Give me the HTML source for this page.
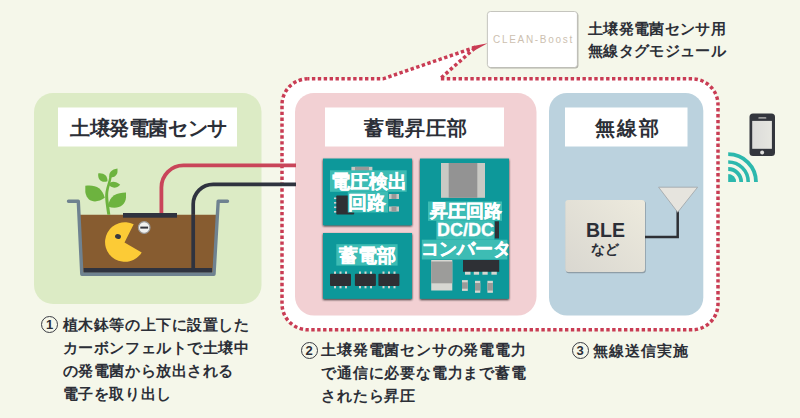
<!DOCTYPE html>
<html><head><meta charset="utf-8">
<style>
html,body{margin:0;padding:0;}
body{width:800px;height:418px;overflow:hidden;position:relative;background:#f5f7ea;font-family:"Liberation Sans",sans-serif;color:#2c2f37;}
svg{position:absolute;left:0;top:0;}
.t{position:absolute;white-space:nowrap;font-weight:bold;}
.title{font-size:20px;line-height:20px;}
.bt{font-size:18px;line-height:19px;color:#fff;-webkit-text-stroke:0.35px #fff;}
.note{font-size:15px;line-height:23px;}
.circ{position:absolute;width:15px;height:15px;border:1.2px solid #3a3c44;border-radius:50%;font-size:13px;line-height:15px;text-align:center;font-weight:bold;}
</style></head>
<body>
<svg width="800" height="418" viewBox="0 0 800 418">
  <!-- dotted outline -->
  <path d="M308,78.8 L383,78.8 L476,47 L440,78.8 L692,78.8 A26,26 0 0 1 718,104.8 L718,303.8 A26,26 0 0 1 692,329.8 L308,329.8 A26,26 0 0 1 282,303.8 L282,104.8 A26,26 0 0 1 308,78.8 Z" fill="#ffffff" stroke="#c93c54" stroke-width="3.5" stroke-dasharray="3.4 2.5" stroke-dashoffset="2"/>
  <polygon points="487.6,43.2 472,46.2 474.5,50.5" fill="#c93c54"/>
  <!-- panels -->
  <rect x="34" y="93" width="227.5" height="211" rx="19" fill="#dcebc5"/>
  <rect x="295" y="93" width="241.5" height="222.6" rx="19" fill="#f2d0d3"/>
  <rect x="549" y="93" width="154.3" height="222.6" rx="18" fill="#bbd2de"/>
  <!-- title boxes -->
  <rect x="58" y="107.5" width="179" height="39" fill="#fff"/>
  <rect x="325" y="107.5" width="179" height="39" fill="#fff"/>
  <rect x="565" y="107.5" width="122.5" height="39" fill="#fff"/>

  <!-- wires -->
  <path d="M161.4,214 L161.4,187.4 A22,22 0 0 1 183.4,165.4 L296,165.4" fill="none" stroke="#c9455a" stroke-width="3.8"/>
  <path d="M193.2,270 L193.2,204.3 A20,20 0 0 1 213.2,184.3 L296,184.3" fill="none" stroke="#2f333f" stroke-width="3.7"/>

  <!-- pot -->
  <polygon points="79.5,214.8 216.8,214.8 213,272.8 82.5,272.8" fill="#875c30"/>
  <rect x="83.5" y="268" width="128.5" height="4.8" fill="#2f333f"/>
  <path d="M193.2,270 L193.2,214.8" stroke="#2f333f" stroke-width="3.7"/>
  <polyline points="68.5,201.2 78.3,201.2 81.8,274.2 214,274.2 218.2,201.2 227.5,201.2" fill="none" stroke="#6f8290" stroke-width="3.4" stroke-linejoin="round" stroke-linecap="round"/>
  <rect x="123" y="213" width="54" height="4.7" fill="#2f333f"/>

  <!-- plant -->
  <g fill="#6db33f">
    <path d="M107.3,214.8 C106,205 104.5,198 105.5,192 C106.5,186 108.5,182 109.5,176 L111.8,176.5 C111,182 109,187 108.3,192 C107.6,198 109.3,205 110.3,214.8 Z"/>
    <path d="M85.3,185.8 C95,184.5 102,187.5 104.8,197.8 C97,203.5 87,203 85.3,192 Z"/>
    <path d="M126,192.6 C117,192.6 109.5,195.5 108,206.5 C117,210 125.5,206 126,197.5 Z"/>
    <path d="M98.2,173.4 C104,172.8 107.5,175.5 107.5,181.2 C102,183 98.5,180.5 98.2,175.8 Z"/>
    <path d="M117.5,168.6 C111.5,169.5 108.5,172.5 109.4,177.5 C114.5,178 117.8,175 117.5,170.8 Z"/>
    <path d="M120.2,184.7 C116,181 110.5,180.5 108.4,184.6 C111.5,188.8 117,188.5 120.2,184.7 Z"/>
  </g>

  <!-- pacman -->
  <path d="M124.5,242.5 L133.7,224.3 A19.8,19.8 0 1 0 141.7,252.4 Z" fill="#fccb36"/>
  <ellipse cx="118" cy="236.5" rx="3" ry="2.4" transform="rotate(20 118 236.5)" fill="#3a3a40"/>
  <circle cx="144.2" cy="227.5" r="5.8" fill="#f1f1ef" stroke="#9c9c9c" stroke-width="1.2"/>
  <rect x="140.3" y="226.6" width="7.8" height="2" fill="#35363d"/>

  <!-- boards shadow + boards -->
  <defs><filter id="sh" x="-10%" y="-10%" width="120%" height="120%"><feGaussianBlur in="SourceAlpha" stdDeviation="1.2"/><feOffset dx="0.4" dy="0.5"/><feComponentTransfer><feFuncA type="linear" slope="0.85"/></feComponentTransfer><feMerge><feMergeNode/><feMergeNode in="SourceGraphic"/></feMerge></filter></defs>
  <g filter="url(#sh)">
    <rect x="323" y="158.6" width="89" height="66.6" fill="#0a989a"/>
    <rect x="323" y="233" width="89" height="65.8" fill="#0a989a"/>
    <rect x="420" y="158.6" width="89" height="140.2" fill="#0a989a"/>
  </g>
  <!-- board1 components -->
  <rect x="351.4" y="166.8" width="21" height="6" fill="#c9c9c4"/>
  <rect x="355" y="166.8" width="14" height="6" fill="#999"/>
  <rect x="336.2" y="195.4" width="18" height="19" rx="1" fill="#2e3035"/>
  <g fill="#cfcfcf"><rect x="334" y="197.5" width="2.2" height="1.6"/><rect x="334" y="202" width="2.2" height="1.6"/><rect x="334" y="206.5" width="2.2" height="1.6"/><rect x="334" y="211" width="2.2" height="1.6"/></g>
  <rect x="389" y="194" width="10" height="5" fill="#c9c9c4"/><rect x="391.5" y="194" width="5" height="5" fill="#999"/>
  <rect x="389" y="206.5" width="10" height="5" fill="#c9c9c4"/><rect x="391.5" y="206.5" width="5" height="5" fill="#999"/>
  <!-- board2 ICs -->
  <g fill="#2e3035">
    <rect x="330" y="273.8" width="21" height="12.2" rx="1"/>
    <rect x="354.9" y="273.8" width="21" height="12.2" rx="1"/>
    <rect x="378.4" y="273.8" width="21" height="12.2" rx="1"/>
  </g>
  <g fill="#d6d6d0">
    <rect x="334" y="271.5" width="2" height="2.3"/><rect x="339.5" y="271.5" width="2" height="2.3"/><rect x="345" y="271.5" width="2" height="2.3"/>
    <rect x="334" y="286" width="2" height="2.3"/><rect x="339.5" y="286" width="2" height="2.3"/><rect x="345" y="286" width="2" height="2.3"/>
    <rect x="359" y="271.5" width="2" height="2.3"/><rect x="364.5" y="271.5" width="2" height="2.3"/><rect x="370" y="271.5" width="2" height="2.3"/>
    <rect x="359" y="286" width="2" height="2.3"/><rect x="364.5" y="286" width="2" height="2.3"/><rect x="370" y="286" width="2" height="2.3"/>
    <rect x="382.5" y="271.5" width="2" height="2.3"/><rect x="388" y="271.5" width="2" height="2.3"/><rect x="393.5" y="271.5" width="2" height="2.3"/>
    <rect x="382.5" y="286" width="2" height="2.3"/><rect x="388" y="286" width="2" height="2.3"/><rect x="393.5" y="286" width="2" height="2.3"/>
  </g>
  <!-- board3 components -->
  <rect x="441" y="163" width="44" height="34.8" fill="#c9c9c4"/>
  <rect x="448.7" y="163" width="28.6" height="34.8" fill="#939393"/>
  <rect x="494.7" y="221.3" width="4.3" height="17.1" fill="#2e3035"/>
  <rect x="431.2" y="260" width="21.1" height="30.5" fill="#d7d7d2"/>
  <rect x="431.2" y="261.5" width="21.1" height="21.8" fill="#9c9c9a"/>
  <rect x="463" y="260" width="36.2" height="11.8" fill="#2e3035"/>
  <g fill="#d6d6d0"><rect x="465" y="271.8" width="5.5" height="2.9"/><rect x="473.8" y="271.8" width="5.3" height="2.9"/><rect x="482.4" y="271.8" width="5.3" height="2.9"/><rect x="491.4" y="271.8" width="5.4" height="2.9"/></g>
  <g><rect x="462" y="280.1" width="5.8" height="10.8" fill="#d6d6d0"/><rect x="462" y="282.3" width="5.8" height="6.4" fill="#9a9a98"/>
     <rect x="475" y="280.8" width="5.3" height="12" fill="#d6d6d0"/><rect x="475" y="283" width="5.3" height="7.6" fill="#9a9a98"/>
     <rect x="487.4" y="280.8" width="5.5" height="12" fill="#d6d6d0"/><rect x="487.4" y="283" width="5.5" height="7.6" fill="#9a9a98"/></g>

  <!-- highlights -->
  <g fill="#3dbcb4">
    <rect x="330" y="170.3" width="76.7" height="21.5"/>
    <rect x="347.8" y="191.8" width="40.4" height="20.7"/>
    <rect x="336.3" y="244.2" width="61.3" height="21.4"/>
    <rect x="428" y="201.5" width="74" height="19.3"/>
    <rect x="436.3" y="220.8" width="58" height="18.9"/>
    <rect x="421.8" y="239.7" width="85.6" height="19.8"/>
  </g>

  <!-- BLE -->
  <defs>
    <linearGradient id="bleg" x1="0" y1="1" x2="1" y2="0">
      <stop offset="0" stop-color="#d9d7d0"/><stop offset="1" stop-color="#edeadd"/>
    </linearGradient>
    <linearGradient id="scr" x1="0" y1="0" x2="1" y2="0">
      <stop offset="0" stop-color="#dcdcda"/><stop offset="1" stop-color="#e6e6e0"/>
    </linearGradient>
  </defs>
  <rect x="565.8" y="200.8" width="80" height="72.5" rx="3" fill="#6f7a80" opacity="0.6"/>
  <rect x="565.3" y="199.9" width="79.7" height="72.2" rx="3" fill="url(#bleg)"/>
  <path d="M645,237 L677.7,237 L677.7,210" fill="none" stroke="#2e3035" stroke-width="2.5"/>
  <polygon points="658.6,187.2 697.6,187.2 677.7,212.3" fill="#e6e4de" stroke="#9ea3a6" stroke-width="0.8"/>

  <!-- CLEAN-Boost box -->
  <rect x="488.4" y="12.5" width="90" height="56" rx="3" fill="#7a7a72" opacity="0.55"/>
  <rect x="487.4" y="11.5" width="90" height="56" rx="3" fill="#fff" stroke="#b8b8b0" stroke-width="0.8"/>

  <!-- phone -->
  <rect x="749.5" y="113.5" width="25.5" height="42.4" rx="3.5" fill="#33363d"/>
  <rect x="752.2" y="120.9" width="19.7" height="27.9" fill="url(#scr)"/>
  <rect x="758.3" y="117" width="8.1" height="1.8" rx="0.9" fill="#9a9a9a"/>
  <circle cx="762.1" cy="152.4" r="2" fill="#e0e0de"/>

  <!-- wifi -->
  <g fill="none" stroke="#2cb8ad">
    <path d="M728.2,174.2 A7.8,7.8 0 0 1 736,182" stroke="none" fill="#2cb8ad"/>
    <path d="M728.2,182 L728.2,174.2 A7.8,7.8 0 0 1 736,182 Z" stroke="none" fill="#2cb8ad"/>
    <path d="M728.2,169 A13,13 0 0 1 741.2,182" stroke-width="3.8"/>
    <path d="M728.2,162 A20,20 0 0 1 748.2,182" stroke-width="3.5"/>
    <path d="M728.2,154.2 A27.8,27.8 0 0 1 756,182" stroke-width="3.8"/>
  </g>
</svg>

<!-- titles -->
<div class="t title" style="left:70px;top:118px;letter-spacing:-0.4px;">土壌発電菌センサ</div>
<div class="t title" style="left:363.5px;top:118px;letter-spacing:0.85px;">蓄電昇圧部</div>
<div class="t title" style="left:595px;top:118px;letter-spacing:2px;">無線部</div>

<!-- board texts -->
<div class="t bt" style="left:330.5px;top:171px;font-size:18.5px;line-height:21px;">電圧検出</div>
<div class="t bt" style="left:347.5px;top:191.5px;font-size:18.5px;line-height:21px;">回路</div>
<div class="t bt" style="left:338.5px;top:246px;font-size:18.5px;">蓄電部</div>
<div class="t bt" style="left:430px;top:201.5px;">昇圧回路</div>
<div class="t bt" style="left:437px;top:220.5px;">DC/DC</div>
<div class="t bt" style="left:420.5px;top:239.5px;">コンバータ</div>

<!-- BLE -->
<div class="t" style="left:586px;top:219px;font-size:19.5px;line-height:22px;">BLE</div>
<div class="t" style="left:591px;top:240px;font-size:14px;line-height:18px;">など</div>

<!-- CLEAN-Boost -->
<div class="t" style="left:493px;top:35px;font-size:10px;line-height:10px;font-weight:normal;color:#cdbfb0;letter-spacing:1.7px;">CLEAN-Boost</div>

<!-- top right -->
<div class="t" style="left:588px;top:18px;font-size:15px;line-height:21.5px;letter-spacing:0.35px;">土壌発電菌センサ用<br>無線タグモジュール</div>

<!-- notes -->
<div class="circ" style="left:41px;top:315.5px;">1</div>
<div class="t note" style="left:62.8px;top:313px;letter-spacing:0.56px;">植木鉢等の上下に設置した<br>カーボンフェルトで土壌中<br>の発電菌から放出される<br>電子を取り出し</div>
<div class="circ" style="left:300.5px;top:342px;">2</div>
<div class="t note" style="left:321.3px;top:338px;letter-spacing:0.78px;">土壌発電菌センサの発電電力<br>で通信に必要な電力まで蓄電<br>されたら昇圧</div>
<div class="circ" style="left:571.5px;top:341.5px;">3</div>
<div class="t note" style="left:593px;top:339px;letter-spacing:1.1px;">無線送信実施</div>
</body></html>
